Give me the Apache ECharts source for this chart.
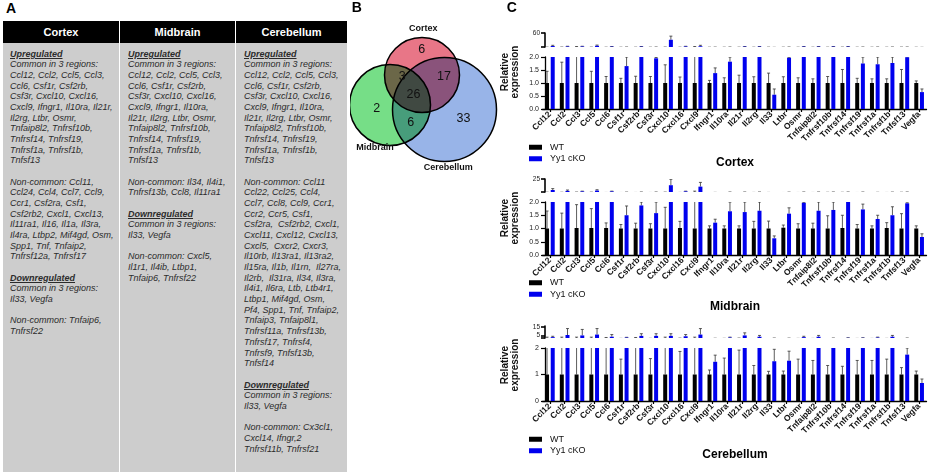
<!DOCTYPE html>
<html>
<head>
<meta charset="utf-8">
<title>Yy1 cKO inflammatory genes</title>
<script src="https://cdn.jsdelivr.net/npm/echarts@6.0.0/dist/echarts.min.js"></script>
<style>
  body { margin: 0; background: #fff; }
  #page { position: relative; width: 930px; height: 473px; overflow: hidden; font-family: 'Liberation Sans', Arial, sans-serif; }
  #chart { position: absolute; left: 0; top: 0; width: 930px; height: 473px; }
  #panelA { position: absolute; left: 0; top: 0; width: 350px; height: 473px; z-index: 2; background: #fff; }
  .letter { position: absolute; left: 6px; top: 1px; font-size: 14px; line-height: 14px; font-weight: bold; }
  .head { position: absolute; top: 21px; height: 22px; line-height: 22px; background: #000; color: #fff; font-weight: bold; font-size: 11px; text-align: center; }
  .col { position: absolute; top: 43px; height: 429px; background: #cdcdcd; color: #2b2b2b; font-style: italic; font-size: 9px; line-height: 10.67px; white-space: pre; box-sizing: border-box; padding-top: 5.7px; }
  .col b { text-decoration: underline; }
</style>
</head>
<body>
<div id="page">
  <div id="chart"></div>
  <div id="panelA"><div class="letter">A</div></div>
</div>
<script>
// ---- panel C data ----
const genes = ['Ccl12', 'Ccl2', 'Ccl3', 'Ccl5', 'Ccl6', 'Csf1r', 'Csf2rb', 'Csf3r', 'Cxcl10', 'Cxcl16', 'Cxcl9',
  'Ifngr1', 'Il10ra', 'Il21r', 'Il2rg', 'Il33', 'Ltbr', 'Osmr', 'Tnfaip8l2', 'Tnfrsf10b', 'Tnfrsf14',
  'Tnfrsf19', 'Tnfrsf1a', 'Tnfrsf1b', 'Tnfsf13', 'Vegfa'];

const cortexWT = [1, 1, 1, 1, 1, 1, 1, 1, 1, 1, 1, 1, 1, 1, 1, 1, 1, 1, 1, 1, 1, 1, 1, 1, 1, 1];
const cortexWTErr = [1.45, 1.8, 4, 1.45, 1.25, 1.18, 1.26, 1.25, 1.7, 1.23, 4, 1.1, 1.2, 1.3, 1.24, 1.38, 1.24, 1.2, 1.16, 1.25, 1.52, 1.18, 1.16, 1.16, 1.52, 1.08];
const cortexKO = [6, 4, 4, 7, 3.5, 1.65, 3.5, 1.95, 32, 4, 5, 1.38, 1.82, 3.5, 3.5, 0.55, 1.97, 3.5, 3.5, 3.5, 3.5, 1.75, 1.72, 1.77, 1.99, 0.65];
const cortexKOErr = [9, 5, 5, 10, 4, 2.0, 4, 1.98, 47, 5, 9, 1.58, 2.0, 4, 4, 0.77, 1.99, 4, 4, 4, 4, 2.0, 2.0, 2.0, 2.0, 0.77];

const midbrainWT = [1, 1, 1.02, 1.02, 1.02, 1, 1, 1, 1, 1.02, 1, 1, 1, 1, 1, 1, 1.03, 1, 1, 1, 1.02, 1, 1, 1.02, 1, 1];
const midbrainWTErr = [1.66, 1.58, 1.9, 1.75, 1.21, 1.15, 1.2, 1.18, 1.8, 1.27, 3.5, 1.1, 1.1, 1.1, 1.27, 1.28, 1.13, 1.18, 1.2, 1.48, 1.5, 1.15, 1.1, 1.22, 1.56, 1.1];
const midbrainKO = [5.5, 4, 3, 4.5, 3, 1.5, 1.87, 1.58, 14, 3, 11.5, 1.22, 1.65, 1.62, 1.67, 0.63, 1.56, 1.97, 1.67, 1.7, 2.0, 1.72, 1.36, 1.5, 1.95, 0.68];
const midbrainKOErr = [8, 5.5, 3.5, 6, 3.5, 1.85, 2.0, 2.0, 24.5, 3.5, 19, 1.35, 2.0, 2.0, 2.0, 0.72, 1.78, 1.99, 2.0, 2.0, 2.0, 1.92, 1.5, 1.82, 1.97, 0.8];

const cerebellumWT = [1, 1, 1, 1, 1, 1, 1, 1, 1, 1, 1, 1, 1, 1, 1, 1, 1, 1, 1, 1, 1, 1, 1, 1, 1, 1];
const cerebellumWTErr = [3, 3, 3, 3, 2.6, 1.58, 2.6, 1.6, 3, 1.87, 3, 1.17, 1.62, 1.92, 1.34, 1.12, 1.13, 1.58, 1.53, 1.34, 1.31, 1.53, 1.53, 1.58, 1.26, 1.13];
const cerebellumKO = [3, 5.5, 5, 6, 3.5, 2.5, 4.5, 4.5, 4.5, 4, 6, 1.48, 2.5, 5, 3.5, 1.5, 1.52, 3, 3.5, 2.0, 2.2, 2.2, 2.5, 3.5, 1.75, 0.68];
const cerebellumKOErr = [4, 13, 12, 13, 6, 2.8, 7, 7, 7, 6, 13, 1.73, 3, 8, 5, 1.95, 1.88, 4, 5, 2.0, 2.3, 2.3, 3, 5, 2.0, 0.83];

// broken y axis: lower part 0-2, upper part [break, max]
const cortexTop = [2, 60];
const midbrainTop = [2, 25];
const cerebellumTop = [2, 16];
const cortexTopLabels = [60];
const midbrainTopLabels = [25];
const cerebellumTopLabels = [5, 15];

// ---- panel B data ----
const vennNames = ['Cortex', 'Midbrain', 'Cerebellum'];
const vennCounts = [6, 2, 33, 3, 17, 6, 26]; // C only, M only, Cb only, C&M, C&Cb, M&Cb, all

// ---- panel A text ----
const tableCols = [
  { name: 'Cortex', left: 3, width: 116, pad: 7, lines: [
    '<b>Upregulated</b>', 'Common in 3 regions:', 'Ccl12, Ccl2, Ccl5, Ccl3,', 'Ccl6, Csf1r, Csf2rb,',
    'Csf3r, Cxcl10, Cxcl16,', 'Cxcl9, Ifngr1, Il10ra, Il21r,', 'Il2rg, Ltbr, Osmr,', 'Tnfaip8l2, Tnfrsf10b,',
    'Tnfrsf14, Tnfrsf19,', 'Tnfrsf1a, Tnfrsf1b,', 'Tnfsf13', '',
    'Non-common: Ccl11,', 'Ccl24, Ccl4, Ccl7, Ccl9,', 'Ccr1, Csf2ra, Csf1,', 'Csf2rb2, Cxcl1, Cxcl13,',
    'Il11ra1, Il16, Il1a, Il3ra,', 'Il4ra, Ltbp2, Mif4gd, Osm,', 'Spp1, Tnf, Tnfaip2,', 'Tnfrsf12a, Tnfrsf17', '',
    '<b>Downregulated</b>', 'Common in 3 regions:', 'Il33, Vegfa', '', 'Non-common: Tnfaip6,', 'Tnfrsf22'] },
  { name: 'Midbrain', left: 120, width: 115, pad: 8, lines: [
    '<b>Upregulated</b>', 'Common in 3 regions:', 'Ccl12, Ccl2, Ccl5, Ccl3,', 'Ccl6, Csf1r, Csf2rb,',
    'Csf3r, Cxcl10, Cxcl16,', 'Cxcl9, Ifngr1, Il10ra,', 'Il21r, Il2rg, Ltbr, Osmr,', 'Tnfaip8l2, Tnfrsf10b,',
    'Tnfrsf14, Tnfrsf19,', 'Tnfrsf1a, Tnfrsf1b,', 'Tnfsf13', '',
    'Non-common: Il34, Il4i1,', 'Tnfrsf13b, Ccl8, Il11ra1', '',
    '<b>Downregulated</b>', 'Common in 3 regions:', 'Il33, Vegfa', '',
    'Non-common: Cxcl5,', 'Il1r1, Il4ib, Ltbp1,', 'Tnfaip6, Tnfrsf22'] },
  { name: 'Cerebellum', left: 236, width: 111, pad: 8, lines: [
    '<b>Upregulated</b>', 'Common in 3 regions:', 'Ccl12, Ccl2, Ccl5, Ccl3,', 'Ccl6, Csf1r, Csf2rb,',
    'Csf3r, Cxcl10, Cxcl16,', 'Cxcl9, Ifngr1, Il10ra,', 'Il21r, Il2rg, Ltbr, Osmr,', 'Tnfaip8l2, Tnfrsf10b,',
    'Tnfrsf14, Tnfrsf19,', 'Tnfrsf1a, Tnfrsf1b,', 'Tnfsf13', '',
    'Non-common: Ccl11', 'Ccl22, Ccl25, Ccl4,', 'Ccl7, Ccl8, Ccl9, Ccr1,', 'Ccr2, Ccr5, Csf1,',
    'Csf2ra,  Csf2rb2, Cxcl1,', 'Cxcl11, Cxcl12, Cxcl13,', 'Cxcl5,  Cxcr2, Cxcr3,', 'Il10rb, Il13ra1, Il13ra2,',
    'Il15ra, Il1b, Il1rn,  Il27ra,', 'Il2rb,  Il31ra, Il34, Il3ra,', 'Il4i1, Il6ra, Ltb, Ltb4r1,', 'Ltbp1, Mif4gd, Osm,',
    'Pf4, Spp1, Tnf, Tnfaip2,', 'Tnfaip3, Tnfaip8l1,', 'Tnfrsf11a, Tnfrsf13b,', 'Tnfrsf17, Tnfrsf4,',
    'Tnfrsf9, Tnfsf13b,', 'Tnfsf14', '',
    '<b>Downregulated</b>', 'Common in 3 regions:', 'Il33, Vegfa', '',
    'Non-common: Cx3cl1,', 'Cxcl14, Ifngr,2', 'Tnfrsf11b, Tnfrsf21'] }
];

const panelA = document.getElementById('panelA');
tableCols.forEach(c => {
  const h = document.createElement('div');
  h.className = 'head';
  h.style.left = c.left + 'px';
  h.style.width = c.width + 'px';
  h.textContent = c.name;
  panelA.appendChild(h);
  const b = document.createElement('div');
  b.className = 'col';
  b.style.left = c.left + 'px';
  b.style.width = c.width + 'px';
  b.style.paddingLeft = c.pad + 'px';
  b.innerHTML = c.lines.join('\n');
  panelA.appendChild(b);
});

// ---- panel C layout ----
const FONT = "'Liberation Sans', Arial, sans-serif";
const GL = 542.5, GW = 384, AXOFF = -2.5;
const BAR_W = 4, SHIFT = 2.85;
const regions = [
  { title: 'Cortex', wt: cortexWT, wtErr: cortexWTErr, ko: cortexKO, koErr: cortexKOErr,
    brk: cortexTop, topLabels: cortexTopLabels, step: 0.5, digits: 1,
    box: [33, 14, 57, 52], titleY: 163, legendTop: 137, nameY: 72 },
  { title: 'Midbrain', wt: midbrainWT, wtErr: midbrainWTErr, ko: midbrainKO, koErr: midbrainKOErr,
    brk: midbrainTop, topLabels: midbrainTopLabels, step: 0.5, digits: 1,
    box: [179, 13, 202, 53], titleY: 307, legendTop: 272.5, nameY: 218 },
  { title: 'Cerebellum', wt: cerebellumWT, wtErr: cerebellumWTErr, ko: cerebellumKO, koErr: cerebellumKOErr,
    brk: cerebellumTop, topLabels: cerebellumTopLabels, step: 1, digits: 0,
    box: [326, 12, 348, 53], titleY: 455, legendTop: 429, nameY: 365 }
];

const axisLine = { show: true, lineStyle: { color: '#000', width: 1.3 } };
const tickStyle = { color: '#000', width: 1.2 };

function barSeries(name, g, values, color) {
  return {
    type: 'bar', name: name, xAxisIndex: g, yAxisIndex: g, data: values,
    barWidth: BAR_W, barGap: '42%', clip: true,
    itemStyle: { color: color }
  };
}

function errSeries(g, values, tops, side) {
  return {
    type: 'custom', xAxisIndex: g, yAxisIndex: g, clip: true, silent: true,
    data: values.map((v, i) => [i, v, tops[i]]),
    renderItem: function (params, api) {
      const lo = api.coord([api.value(0), api.value(1)]);
      const hi = api.coord([api.value(0), api.value(2)]);
      const x = lo[0] + side * SHIFT;
      const st = { stroke: '#333', lineWidth: 0.8 };
      return {
        type: 'group', children: [
          { type: 'line', shape: { x1: x, y1: lo[1], x2: x, y2: hi[1] }, style: st },
          { type: 'line', shape: { x1: x - 1.5, y1: hi[1], x2: x + 1.5, y2: hi[1] }, style: st }
        ]
      };
    }
  };
}

const grid = [], xAxis = [], yAxis = [], series = [], legend = [], graphic = [];

regions.forEach(r => {
  const g = grid.length;
  grid.push({ left: GL, width: GW, top: r.box[0], height: r.box[1] });
  grid.push({ left: GL, width: GW, top: r.box[2], height: r.box[3] });

  xAxis.push({ type: 'category', gridIndex: g, data: genes, show: false });
  xAxis.push({
    type: 'category', gridIndex: g + 1, data: genes,
    axisLine: axisLine,
    axisTick: { show: true, alignWithLabel: true, length: 3, lineStyle: tickStyle },
    axisLabel: { interval: 0, rotate: 45, margin: 4, fontSize: 8.5, fontWeight: 'bold', color: '#111', fontFamily: FONT }
  });

  yAxis.push({
    type: 'value', gridIndex: g, min: r.brk[0], max: r.brk[1], offset: AXOFF,
    splitLine: { show: false }, axisLine: { show: true, lineStyle: { color: '#000', width: 1.6 } },
    axisTick: { show: true, length: 4, customValues: [r.brk[0]].concat(r.topLabels), lineStyle: { color: '#000', width: 1.6 } },
    axisLabel: { customValues: r.topLabels, fontSize: 6.5, color: '#222', margin: 5, fontFamily: FONT }
  });
  yAxis.push({
    type: 'value', gridIndex: g + 1, min: 0, max: 2, interval: r.step, offset: AXOFF,
    splitLine: { show: false }, axisLine: axisLine,
    axisTick: { show: true, length: 4, lineStyle: tickStyle },
    axisLabel: { fontSize: 7, color: '#222', margin: 6, fontFamily: FONT,
      formatter: v => v.toFixed(r.digits) }
  });

  [g, g + 1].forEach(k => {
    series.push(barSeries('WT', k, r.wt, '#000'));
    series.push(barSeries('Yy1 cKO', k, r.ko, '#0000ee'));
    series.push(errSeries(k, r.wt, r.wtErr, -1));
    series.push(errSeries(k, r.ko, r.koErr, 1));
  });

  legend.push({
    data: ['WT', 'Yy1 cKO'], orient: 'vertical', left: 524, top: r.legendTop,
    itemWidth: 13, itemHeight: 5, itemGap: 1, icon: 'rect', selectedMode: false,
    textStyle: { fontSize: 9, color: '#111', lineHeight: 10.5, padding: [0, 0, 0, 3], fontFamily: FONT }
  });

  graphic.push({
    type: 'text', x: 735, y: r.titleY,
    style: { text: r.title, align: 'center', verticalAlign: 'middle', textAlign: 'center', textVerticalAlign: 'middle',
      font: 'bold 12px ' + FONT, fill: '#000' }
  });
  graphic.push({
    type: 'text', x: 510, y: r.nameY, rotation: Math.PI / 2,
    style: { text: 'Relative\nexpression', align: 'center', verticalAlign: 'middle', textAlign: 'center', textVerticalAlign: 'middle',
      font: 'bold 10px ' + FONT, lineHeight: 10, fill: '#111' }
  });
});

// ---- panel B: Venn ----
const vennCircles = [
  { cx: 422, cy: 75, r: 37.5, fill: '#e87687' },
  { cx: 390, cy: 105, r: 40.5, fill: '#76de87' },
  { cx: 444.5, cy: 109.5, r: 52, fill: '#98b4e8' }
];
vennCircles.forEach(c => graphic.push({
  type: 'circle', shape: { cx: c.cx, cy: c.cy, r: c.r }, style: { fill: c.fill, blend: 'multiply' }
}));
vennCircles.forEach(c => graphic.push({
  type: 'circle', shape: { cx: c.cx, cy: c.cy, r: c.r }, style: { fill: 'none', stroke: '#000', lineWidth: 1.5 }
}));
const vennSpots = [[421.7, 50], [376.7, 108.5], [463.5, 118.5], [402.3, 76.5], [444, 76.5], [410.7, 123], [413.5, 94.5]];
vennCounts.forEach((n, i) => graphic.push({
  type: 'text', x: vennSpots[i][0], y: vennSpots[i][1],
  style: { text: String(n), align: 'center', verticalAlign: 'middle', textAlign: 'center', textVerticalAlign: 'middle',
    font: '12.5px ' + FONT, fill: '#111' }
}));
const vennLabelSpots = [[423.3, 28.5], [375, 147.5], [448.3, 167.5]];
vennNames.forEach((n, i) => graphic.push({
  type: 'text', x: vennLabelSpots[i][0], y: vennLabelSpots[i][1],
  style: { text: n, align: 'center', verticalAlign: 'middle', textAlign: 'center', textVerticalAlign: 'middle',
    font: 'bold 9px ' + FONT, fill: '#111' }
}));

// panel letters
[['B', 356.7], ['C', 511.7]].forEach(p => graphic.push({
  type: 'text', x: p[1], y: 8.5,
  style: { text: p[0], align: 'center', verticalAlign: 'middle', textAlign: 'center', textVerticalAlign: 'middle',
    font: 'bold 14px ' + FONT, fill: '#000' }
}));

const chart = echarts.init(document.getElementById('chart'));
chart.setOption({
  backgroundColor: '#fff',
  animation: false,
  grid: grid,
  xAxis: xAxis,
  yAxis: yAxis,
  legend: legend,
  series: series,
  graphic: graphic
});
</script>
</body>
</html>
